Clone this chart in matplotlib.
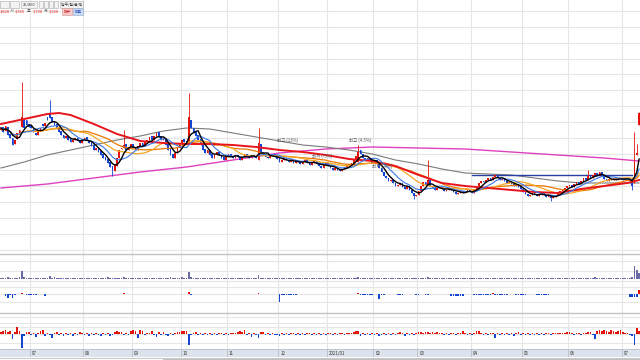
import numpy as np
import pandas as pd
import matplotlib
matplotlib.use("Agg")
import matplotlib.pyplot as plt
from matplotlib.patches import Rectangle
from matplotlib.lines import Line2D

plt.rcParams['font.family'] = ['Noto Sans CJK KR', 'DejaVu Sans']

# 1) Daily candles (won), one value per trading day
close = [
    2720, 2680, 2740, 2650, 2620, 2550, 2600, 2670, 2700, 2830,
    2720, 2750, 2730, 2720, 2680, 2650, 2700, 2720, 2740, 2770,
    2800, 2820, 2780, 2750, 2720, 2680, 2650, 2620, 2640, 2600,
    2580, 2600, 2620, 2590, 2570, 2600, 2620, 2600, 2570, 2540,
    2500, 2520, 2480, 2450, 2420, 2400, 2370, 2330, 2300, 2350,
    2420, 2500, 2520, 2550, 2500, 2530, 2560, 2520, 2500, 2540,
    2570, 2540, 2580, 2600, 2630, 2600, 2640, 2670, 2630, 2600,
    2620, 2550, 2500, 2450, 2420, 2470, 2530, 2560, 2600, 2580,
    2570, 2830, 2720, 2670, 2640, 2600, 2550, 2500, 2470, 2500,
    2450, 2420, 2450, 2480, 2450, 2420, 2400, 2440, 2460, 2440,
    2420, 2450, 2430, 2400, 2430, 2460, 2440, 2420, 2450, 2430,
    2420, 2570, 2480, 2450, 2430, 2420, 2440, 2460, 2430, 2410,
    2380, 2400, 2420, 2400, 2380, 2390, 2370, 2400, 2380, 2360,
    2380, 2400, 2370, 2350, 2370, 2390, 2360, 2340, 2320, 2350,
    2370, 2340, 2320, 2300, 2320, 2300, 2290, 2310, 2330, 2350,
    2360, 2370, 2400, 2440, 2480, 2460, 2420, 2400, 2420, 2390,
    2370, 2400, 2360, 2320, 2280, 2240, 2220, 2190, 2200, 2170,
    2140, 2150, 2170, 2130, 2110, 2140, 2100, 2070, 2040, 2050,
    2090, 2140, 2180, 2150, 2200, 2140, 2120, 2100, 2120, 2130,
    2110, 2090, 2100, 2120, 2100, 2080, 2060, 2070, 2090, 2070,
    2080, 2100, 2090, 2070, 2100, 2140, 2170, 2190, 2180, 2200,
    2220, 2200, 2230, 2250, 2220, 2200, 2210, 2190, 2170, 2180,
    2160, 2140, 2150, 2130, 2110, 2080, 2060, 2040, 2050, 2070,
    2060, 2040, 2050, 2070, 2050, 2030, 2040, 2020, 2030, 2050,
    2070, 2090, 2100, 2120, 2140, 2150, 2130, 2160, 2180, 2160,
    2190, 2220, 2200, 2240, 2220, 2250, 2270, 2240, 2280, 2240,
    2210, 2190, 2210, 2200, 2220, 2200, 2210, 2220, 2200, 2220,
    2210, 2190, 2140, 2380, 2470, 2870,
]
open_ = [
    2700, 2730, 2690, 2730, 2660, 2620, 2560, 2610, 2670, 2730,
    2800, 2800, 2760, 2740, 2710, 2670, 2650, 2690, 2760, 2740,
    2830, 2870, 2830, 2790, 2760, 2720, 2690, 2650, 2620, 2640,
    2610, 2580, 2600, 2620, 2600, 2570, 2600, 2630, 2600, 2580,
    2550, 2500, 2530, 2490, 2460, 2430, 2410, 2380, 2340, 2290,
    2340, 2420, 2510, 2520, 2560, 2500, 2530, 2560, 2520, 2500,
    2540, 2570, 2540, 2580, 2600, 2640, 2600, 2640, 2680, 2640,
    2600, 2620, 2560, 2510, 2460, 2420, 2470, 2520, 2560, 2610,
    2590, 2570, 2800, 2720, 2680, 2650, 2610, 2560, 2510, 2470,
    2500, 2460, 2420, 2450, 2480, 2450, 2430, 2400, 2440, 2460,
    2440, 2420, 2450, 2430, 2400, 2430, 2460, 2440, 2420, 2450,
    2440, 2400, 2560, 2480, 2460, 2430, 2420, 2440, 2460, 2430,
    2420, 2380, 2400, 2420, 2400, 2380, 2390, 2370, 2400, 2380,
    2360, 2380, 2400, 2370, 2350, 2370, 2390, 2360, 2340, 2320,
    2350, 2370, 2340, 2320, 2300, 2320, 2300, 2290, 2310, 2330,
    2350, 2360, 2370, 2400, 2380, 2500, 2460, 2420, 2400, 2420,
    2390, 2370, 2400, 2360, 2320, 2280, 2240, 2220, 2190, 2200,
    2170, 2140, 2150, 2170, 2130, 2110, 2140, 2100, 2070, 2040,
    2050, 2090, 2140, 2180, 2150, 2200, 2140, 2120, 2100, 2120,
    2130, 2110, 2090, 2100, 2120, 2100, 2080, 2060, 2070, 2090,
    2070, 2080, 2100, 2090, 2070, 2100, 2140, 2170, 2190, 2180,
    2200, 2220, 2200, 2230, 2250, 2220, 2200, 2210, 2190, 2170,
    2180, 2160, 2140, 2150, 2130, 2110, 2080, 2060, 2040, 2050,
    2070, 2060, 2040, 2050, 2070, 2050, 2030, 2040, 2020, 2030,
    2050, 2070, 2090, 2100, 2120, 2140, 2150, 2130, 2160, 2180,
    2160, 2190, 2220, 2200, 2240, 2220, 2250, 2270, 2240, 2280,
    2240, 2210, 2190, 2210, 2200, 2220, 2200, 2210, 2220, 2200,
    2220, 2210, 2190, 2170, 2450, 2750,
]
high_days = [9, 21, 53, 81, 111, 154, 184, 253, 273, 274, 275]
high_vals = [3180, 3000, 2700, 3070, 2720, 2550, 2400, 2300, 2680, 2560, 2880]
low_days = [48, 178, 237, 272]
low_vals = [2240, 2010, 1990, 2100]

# long moving averages
ma60_days = [0, 10, 20, 25, 30, 40, 50, 60, 70, 80, 90, 100, 110, 120, 130,
             140, 150, 160, 170, 180, 190, 200, 210, 220, 230, 240, 250, 260, 270, 275]
ma60_vals = [2760, 2810, 2860, 2870, 2850, 2760, 2660, 2590, 2570, 2560, 2560, 2550, 2530, 2500, 2480,
             2450, 2410, 2390, 2340, 2250, 2170, 2140, 2120, 2100, 2080, 2070, 2110, 2140, 2170, 2200]
ma120_days = [0, 10, 20, 30, 40, 50, 60, 70, 80, 90, 100, 110, 120, 130, 140,
              150, 160, 170, 180, 190, 200, 210, 220, 230, 240, 250, 260, 270, 275]
ma120_vals = [2320, 2380, 2450, 2500, 2550, 2600, 2640, 2690, 2720, 2710, 2670, 2630, 2590, 2550, 2530,
              2500, 2460, 2400, 2360, 2310, 2270, 2260, 2250, 2220, 2190, 2170, 2170, 2170, 2170]
ma240_days = [0, 20, 40, 60, 80, 100, 120, 140, 160, 180, 200, 220, 240, 260, 275]
ma240_vals = [2120, 2160, 2220, 2280, 2330, 2400, 2470, 2510, 2530, 2520, 2510, 2480, 2450, 2420, 2390]

trend_days = [203, 272]
trend_vals = [2250, 2250]

note_texts = ["최고 (13%)", "최고 (4.5%)", "최저 (-5%)", "최저 (-4%)"]
note_days = [119, 150, 134, 160]
note_vals = [2570, 2570, 2410, 2310]

# 2) Lower panels
volume_hex = "".join([
    "1112111128", "2111111111", "1312111111", "1111111111", "1111112111",
    "1112111111", "1111111111", "1112111121", "1721111111", "1111111111",
    "1111111111", "1411111111", "1111111111", "1111111111", "1111111111",
    "1111211111", "1111111111", "1111111111", "1111211111", "1111111111",
    "1111111111", "1111111111", "1111111111", "1111111111", "1111111111",
    "1111112111", "1111111111", "112d96",
])
p2_days = [2, 3, 4, 5, 6, 9, 11, 12, 13, 14, 15, 19,
           53, 81, 82, 111,
           120, 121, 122, 123, 124, 125, 126, 127,
           154, 155, 156, 157, 158, 159, 160, 163, 164, 165,
           171, 172, 173, 179, 180, 183, 184,
           194, 195, 196, 197, 198, 199,
           204, 205, 206, 207, 208, 209, 210, 211, 212, 213, 214, 215, 216, 217, 218,
           222, 223, 224, 225, 226, 231, 232, 233, 234, 235, 236,
           271, 272, 273, 274, 275]
p2_vals = [-2, -4, -1, -4, -1, 1, -1, -1, -1, -1, -1, -2,
           1, 2, -1, 1,
           -8, -1, -1, -1, -1, -1, -1, -1,
           1, -1, -1, -1, -1, -1, -1, -5, -1, -1,
           -1, -1, -1, -1, -1, -1, -1,
           -2, -2, -2, -2, -2, -2,
           -1, -1, -1, -1, -1, -1, -1, -1, 1, -1, -1, -1, -1, -1, -1,
           -1, -1, -1, -1, -1, -1, -1, -1, -1, -1, -1,
           -3, -3, -3, -3, 4]
p3_vals = [
    2, 3, 4, 2, 3, -5, 2, 7, 3, -14,
    -2, 2, 2, -1, 1, -3, 1, 3, 4, -2,
    1, -1, -4, 1, 2, -1, 1, -2, 1, -1,
    1, -2, 1, -1, 2, 1, -1, 1, -2, 1,
    -1, 1, -1, -2, 1, -1, 1, -2, -1, 2,
    3, 2, 2, -1, 1, -1, 3, 4, 3, -4,
    4, 3, -1, 1, 1, 3, -1, -3, 2, -1,
    2, -1, -2, 1, -1, 1, 2, 2, 3, 3,
    3, -11, -1, 1, 2, -1, 1, -1, 1, -1,
    1, -1, 1, -1, 1, 1, -1, 1, -1, 1,
    1, 1, 2, 3, 2, 4, -1, 1, -3, 1,
    -1, -4, 2, 2, -1, 1, -1, 1, -1, -1,
    -2, 1, -1, 1, -1, 1, 1, -1, 1, -1,
    1, -1, 1, 1, -1, 1, -1, 1, -1, 1,
    -1, 1, 1, -1, 1, -1, 1, 1, -1, 1,
    1, 1, 2, 3, 3, -2, 1, -1, 1, -1,
    1, -1, 1, -2, -1, 1, -1, 1, -1, 1,
    -1, 1, 2, 1, -2, 1, -1, 1, -1, 1,
    2, 2, 1, 2, 2, 1, 2, 1, 2, 1,
    1, -1, 1, -1, 1, 1, -1, 1, 1, 3,
    1, -1, 1, -1, 1, 3, 3, 1, -1, 1,
    -1, 1, 1, -4, 1, -1, 1, -1, 1, -1,
    1, -2, 1, 2, -1, 1, -1, 1, -1, 1,
    -1, 1, -1, 1, -1, 1, 1, -1, 1, 1,
    1, 1, 1, 1, 2, 2, 1, -1, 1, 1,
    -1, 1, 1, 2, 2, -1, -5, 3, 4, 3,
    4, 3, 2, 4, 3, 2, 3, 4, 2, 1,
    1, -1, -2, -11, 6, 3,
]

month_pos = [12.5, 35.5, 56.5, 77.5, 97.5, 119.5, 140.5, 160.5, 179.5, 202.5, 224.5, 244.5, 267.5]
month_labels = ["07", "08", "09", "10", "11", "12", "2021/01", "02", "03", "04", "05", "06", "07"]
price_grid = [3890, 3730, 3570, 3410, 3260, 3100, 2940, 2780, 2620, 2460, 2300, 2140, 1980, 1820, 1660, 1500]

RED = "#e3120b"
BLUE = "#1446d2"
W, H = 640, 360
XMIN, XMAX = -0.43, 275.4

days = np.arange(len(close))
c = np.array(close, dtype=float)
o = np.array(open_, dtype=float)
hi = np.maximum(o, c)
lo = np.minimum(o, c)
hi[high_days] = high_vals
lo[low_days] = low_vals
cols = np.where(c >= o, RED, BLUE)

fig = plt.figure(figsize=(6.4, 3.6), dpi=100)
fig.patch.set_facecolor("white")


def px_axes(top, bottom):
    return fig.add_axes([0, 1 - bottom / H, 1, (bottom - top) / H])


def style(ax, yt):
    ax.set_xlim(XMIN, XMAX)
    ax.set_xticks(month_pos)
    ax.set_yticks(yt)
    ax.grid(True, color="#e6e6e6", lw=0.8)
    ax.tick_params(length=0, labelbottom=False, labelleft=False)
    for s in ax.spines.values():
        s.set_visible(False)
    ax.set_axisbelow(True)


def hline(y, x0=0, x1=W, color="#c4c4c4", lw=1.0):
    fig.add_artist(Line2D([x0 / W, x1 / W], [1 - y / H, 1 - y / H],
                          transform=fig.transFigure, color=color, lw=lw))


# 3) Price panel
ax = px_axes(0, 254)
style(ax, price_grid)
ax.set_ylim(1460, 4000)

ax.plot(ma240_days, ma240_vals, color="#e040c0", lw=1.0, zorder=2)
ax.plot(ma120_days, ma120_vals, color="#7a7a7a", lw=0.8, zorder=2)
ax.plot(trend_days, trend_vals, color="#2a3fa0", lw=1.0, zorder=2)

body = np.maximum(np.abs(c - o), 8)
ax.vlines(days, lo, hi, colors=cols, lw=0.6, zorder=3)
ax.bar(days, body, bottom=np.minimum(o, c), width=0.72, color=cols, lw=0, zorder=3)

s = pd.Series(c)
ax.plot(days, s.rolling(30, min_periods=1).mean(), color="#e87800", lw=0.9, zorder=4)
ax.plot(days, s.rolling(20, min_periods=1).mean(), color="#f5a623", lw=0.9, zorder=4)
ax.plot(ma60_days, ma60_vals, color="#e8141c", lw=1.4, zorder=4)
ax.plot(days, s.rolling(10, min_periods=1).mean(), color="#3a78e6", lw=0.8, zorder=5)
ax.plot(days, s.rolling(5, min_periods=1).mean(), color="black", lw=1.0, zorder=6)

for t, d, v in zip(note_texts, note_days, note_vals):
    ax.text(d, v, t, fontsize=3.2, color="#555555", va="bottom", zorder=7)

# 4) Volume panel
vol = [int(ch, 16) for ch in volume_hex]
axv = px_axes(254, 284)
style(axv, [-2, 8, 18])
axv.set_ylim(-5, 25)
axv.bar(days, vol, width=0.72, color="#6a6aa6", lw=0)

# 5) Net-buy panel
ax2 = px_axes(284, 313)
style(ax2, [-8, 0, 7])
ax2.set_ylim(-19, 10)
ax2.bar(p2_days, p2_vals, width=0.72, lw=0,
        color=[RED if v > 0 else BLUE for v in p2_vals])

# 6) Bottom oscillator panel
ax3 = px_axes(313, 349)
style(ax3, [-9, 0, 7, 11, 17])
ax3.set_ylim(-15, 21)
ax3.bar(days, p3_vals, width=0.72, lw=0,
        color=[RED if v > 0 else BLUE for v in p3_vals])

# 7) Date band
axx = px_axes(349, 357)
axx.set_xlim(XMIN, XMAX)
axx.set_ylim(0, 1)
axx.set_facecolor("#dde3ec")
axx.set_xticks([])
axx.set_yticks([])
for sp in axx.spines.values():
    sp.set_visible(False)
axx.vlines(month_pos, 0, 1, colors="#b8bcc6", lw=0.6)
for p, lab in zip(month_pos, month_labels):
    axx.text(p + 0.8, 0.45, lab, fontsize=3.2, color="#333333", va="center")

hline(254)
hline(313)
hline(349, color="#b8c0cc", lw=0.6)
hline(357.5, color="#c8c8c8", lw=0.8)
fig.add_artist(Rectangle((163 / W, 0), (W - 163) / W, 2.5 / H,
                         transform=fig.transFigure, color="#c0c0c0", lw=0))

# 8) Toolbar in the top left
for x0, w in [(0, 9), (10, 9), (21, 16), (39, 4), (44, 4), (49, 4), (54, 4), (60, 23)]:
    fig.add_artist(Rectangle((x0 / W, 1 - 8 / H), w / W, 7 / H, transform=fig.transFigure,
                             facecolor="#f3f3f3", edgecolor="#a8a8a8", lw=0.4))
fig.text(29 / W, 1 - 4.5 / H, "25/400", fontsize=2.8, ha="center", va="center", color="#333")
fig.text(71.5 / W, 1 - 4.5 / H, "일/주/월/분/틱", fontsize=2.6, ha="center", va="center", color="#333")
row2 = [(0, "1,820", RED), (10, "시", "#333"), (15, "3,325", RED), (27, "고", "#333"),
        (33, "3,790", RED), (44, "저", "#333"), (49, "3,320", RED)]
for x0, t, col in row2:
    fig.text(x0 / W, 1 - 11.5 / H, t, fontsize=2.9, va="center", color=col)
fig.add_artist(Rectangle((62 / W, 1 - 15 / H), 10 / W, 7 / H, transform=fig.transFigure,
                         facecolor="#f7c9c9", edgecolor="#d09090", lw=0.4))
fig.add_artist(Rectangle((73 / W, 1 - 15 / H), 10 / W, 7 / H, transform=fig.transFigure,
                         facecolor="#c9daf7", edgecolor="#90a8d0", lw=0.4))
fig.text(67 / W, 1 - 11.5 / H, "매수", fontsize=2.8, ha="center", va="center", color="#c01010")
fig.text(78 / W, 1 - 11.5 / H, "매도", fontsize=2.8, ha="center", va="center", color="#1040b0")

fig.savefig("out.png", dpi=100)
